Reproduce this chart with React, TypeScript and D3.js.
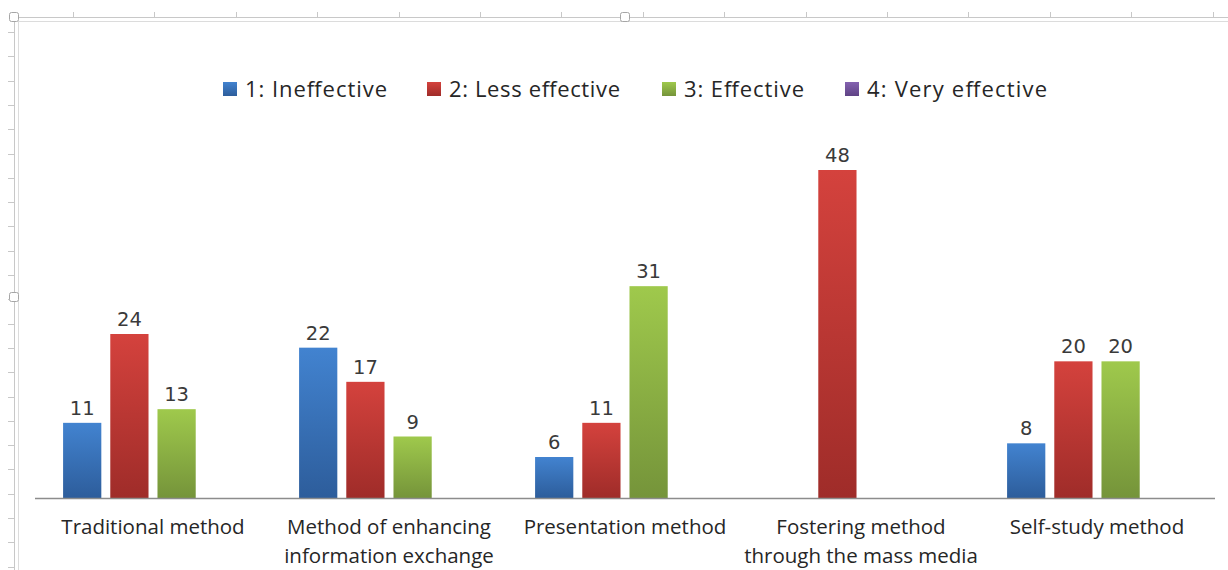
import React from 'react';
import * as d3 from 'd3';

const categories: string[][] = [
  ['Traditional method'],
  ['Method of enhancing', 'information exchange'],
  ['Presentation method'],
  ['Fostering method', 'through the mass media'],
  ['Self-study method'],
];

const seriesNames = ['1: Ineffective', '2: Less effective', '3: Effective', '4: Very effective'];

const ineffective: (number | null)[] = [11, 22, 6, null, 8];
const lessEffective: (number | null)[] = [24, 17, 11, 48, 20];
const effective: (number | null)[] = [13, 9, 31, null, 20];
const veryEffective: (number | null)[] = [null, null, null, null, null];

const seriesValues = [ineffective, lessEffective, effective, veryEffective];

// top / bottom gradient colours per series
const seriesColors = [
  ['#4283d0', '#2d5d9b'],
  ['#d4423d', '#9f2c29'],
  ['#9fc94c', '#75943a'],
  ['#8462b0', '#5f4385'],
];

const W = 1228;
const H = 570;
const baseline = 498;
const FONT = '"Open Sans", "Noto Sans", sans-serif';

const App: React.FC = () => {
  const keys = categories.map(c => c.join(' '));
  const x = d3.scaleBand<string>().domain(keys).range([35, 1215]);
  const y = d3.scaleLinear().domain([0, 48]).range([baseline, 170]);

  const cluster = x.bandwidth() * 0.8;
  const xs = d3.scaleBand<number>()
    .domain(d3.range(seriesNames.length))
    .range([0, cluster])
    .paddingInner(0.19)
    .paddingOuter(0.095);

  const topTicks = d3.range(73, W, 81.4);
  const leftTicks = d3.range(32, H, 24.3);

  // legend layout: square left edges and text widths
  const legendX = [223, 427, 662, 845];
  const legendTextW = [142, 171, 120, 180];

  const handle = (cx: number, cy: number, key: string) => (
    <rect key={key} x={cx - 4.5} y={cy - 4.5} width={9} height={9} rx={2}
      fill="#fff" stroke="#a6a6a6" strokeWidth={1} />
  );

  return (
    <svg width={W} height={H} viewBox={`0 0 ${W} ${H}`}
      style={{ position: 'absolute', left: 0, top: 0, background: '#fff' }}>
      <defs>
        {seriesColors.map((c, i) => (
          <linearGradient key={i} id={`grad${i}`} x1="0" y1="0" x2="0" y2="1">
            <stop offset="0%" stopColor={c[0]} />
            <stop offset="100%" stopColor={c[1]} />
          </linearGradient>
        ))}
      </defs>

      {/* frame / ruler */}
      <g stroke="#c8c8c8" strokeWidth={1} fill="none">
        <line x1={14} y1={17.5} x2={W} y2={17.5} />
        <line x1={18.5} y1={21.5} x2={W} y2={21.5} stroke="#dcdcdc" />
        <line x1={14.5} y1={17} x2={14.5} y2={H} />
        <line x1={18.5} y1={21} x2={18.5} y2={H} stroke="#dcdcdc" />
        {topTicks.map((t, i) => (
          <line key={`tt${i}`} x1={Math.round(t) + 0.5} y1={12} x2={Math.round(t) + 0.5} y2={17} />
        ))}
        {leftTicks.map((t, i) => (
          <line key={`lt${i}`} x1={8} y1={Math.round(t) + 0.5} x2={14} y2={Math.round(t) + 0.5} />
        ))}
      </g>
      {handle(14, 17, 'h1')}
      {handle(625, 17, 'h2')}
      {handle(14, 297, 'h3')}

      {/* legend */}
      <g fontFamily={FONT} fontSize={22} fill="#262626">
        {seriesNames.map((name, i) => (
          <g key={name}>
            <rect x={legendX[i]} y={82} width={14} height={14} fill={`url(#grad${i})`} />
            <text x={legendX[i] + 22} y={97} textLength={legendTextW[i]} lengthAdjust="spacing">{name}</text>
          </g>
        ))}
      </g>

      {/* bars */}
      {seriesValues.map((vals, si) => (
        <g key={si}>
          {vals.map((v, ci) => {
            if (v == null) return null;
            const bx = (x(keys[ci]) ?? 0) + (x.bandwidth() - cluster) / 2 + (xs(si) ?? 0);
            const by = y(v);
            return (
              <g key={ci}>
                <rect x={bx} y={by} width={xs.bandwidth()} height={baseline - by}
                  fill={`url(#grad${si})`} />
                <text x={bx + xs.bandwidth() / 2} y={by - 8} textAnchor="middle"
                  fontFamily='"DejaVu Sans", Verdana, sans-serif' fontSize={19.5} fill="#3a3a3a">
                  {v}
                </text>
              </g>
            );
          })}
        </g>
      ))}

      {/* axis line */}
      <line x1={35} y1={baseline + 0.5} x2={1215} y2={baseline + 0.5} stroke="#8c8c8c" strokeWidth={1.3} />

      {/* category labels */}
      <g fontFamily={FONT} fontSize={20.5} fill="#262626" textAnchor="middle">
        {categories.map((lines, ci) => (
          <text key={ci} x={(x(keys[ci]) ?? 0) + x.bandwidth() / 2} y={534}>
            {lines.map((l, li) => (
              <tspan key={li} x={(x(keys[ci]) ?? 0) + x.bandwidth() / 2} dy={li === 0 ? 0 : 29}>{l}</tspan>
            ))}
          </text>
        ))}
      </g>
    </svg>
  );
};

export default App;
